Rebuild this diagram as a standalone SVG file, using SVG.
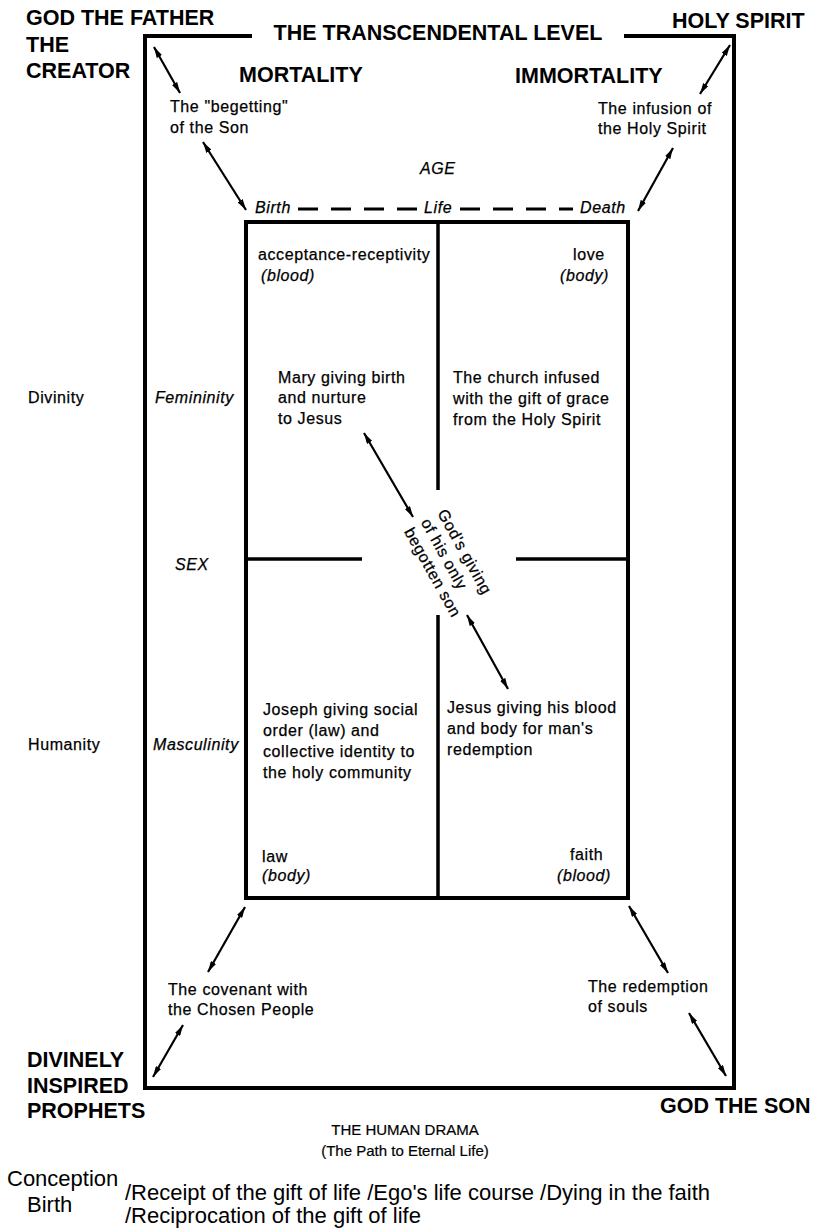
<svg xmlns="http://www.w3.org/2000/svg" width="814" height="1230" viewBox="0 0 814 1230">
<defs>
<style>
.hd{font-family:"Liberation Sans",Arial,sans-serif;font-weight:bold;font-size:21.5px;fill:#000}
.tx{font-family:"Liberation Sans",Arial,sans-serif;font-size:16px;letter-spacing:0.6px;fill:#000;stroke:#000;stroke-width:0.25}
.it{font-family:"Liberation Sans",Arial,sans-serif;font-size:16px;font-style:italic;letter-spacing:0.6px;fill:#000;stroke:#000;stroke-width:0.25}
.bt{font-family:"Liberation Sans",Arial,sans-serif;font-size:22px;fill:#000}
.sm{font-family:"Liberation Sans",Arial,sans-serif;font-size:15px;fill:#000;stroke:#000;stroke-width:0.2}
.frame{fill:none;stroke:#000;stroke-width:4;stroke-linecap:square}
.div{fill:none;stroke:#000;stroke-width:3.5}
.arr{fill:none;stroke:#000;stroke-width:2.2;marker-start:url(#ah);marker-end:url(#ah)}
.dash{fill:none;stroke:#000;stroke-width:3;stroke-dasharray:20 13}
</style>
<marker id="ah" viewBox="0 0 11 6" refX="11" refY="3" markerWidth="11" markerHeight="6" markerUnits="userSpaceOnUse" orient="auto-start-reverse">
<path d="M0,0 L11,3 L0,6 z" fill="#000"/>
</marker>
</defs>
<rect width="814" height="1230" fill="#fff"/>

<g id="outer-frame">
<path class="frame" d="M250,36 H145 V1088 H734 V36 H626"/>
<text class="hd" x="438" y="40" text-anchor="middle">THE TRANSCENDENTAL LEVEL</text>
</g>

<g id="inner-box">
<rect class="frame" x="246" y="222" width="382" height="676"/>
<path class="div" d="M438,222 V490 M438,615 V898 M246,559 H362 M516,559 H628"/>
</g>

<g id="age-line">
<text class="it" x="420" y="174">AGE</text>
<text class="it" x="255" y="213">Birth</text>
<text class="it" x="424" y="213">Life</text>
<text class="it" x="580" y="213">Death</text>
<path class="dash" d="M298,209 H420 M460,209 H573"/>
</g>

<g id="god-the-father">
<text class="hd" x="26" y="25">GOD THE FATHER</text>
<text class="hd" x="26" y="52">THE</text>
<text class="hd" x="26" y="78">CREATOR</text>
</g>
<g id="holy-spirit"><text class="hd" x="672" y="28">HOLY SPIRIT</text></g>
<g id="mortality"><text class="hd" x="239" y="82">MORTALITY</text></g>
<g id="immortality"><text class="hd" x="515" y="83">IMMORTALITY</text></g>
<g id="prophets">
<text class="hd" x="27" y="1067">DIVINELY</text>
<text class="hd" x="27" y="1093">INSPIRED</text>
<text class="hd" x="27" y="1118">PROPHETS</text>
</g>
<g id="god-the-son"><text class="hd" x="660" y="1113">GOD THE SON</text></g>

<g id="begetting">
<text class="tx" x="170" y="112">The "begetting"</text>
<text class="tx" x="170" y="133">of the Son</text>
</g>
<g id="infusion">
<text class="tx" x="598" y="114">The infusion of</text>
<text class="tx" x="598" y="134">the Holy Spirit</text>
</g>
<g id="covenant">
<text class="tx" x="168" y="995">The covenant with</text>
<text class="tx" x="168" y="1015">the Chosen People</text>
</g>
<g id="redemption">
<text class="tx" x="588" y="992">The redemption</text>
<text class="tx" x="588" y="1012">of souls</text>
</g>

<g id="row-labels">
<text class="tx" x="28" y="403">Divinity</text>
<text class="it" x="155" y="403">Femininity</text>
<text class="it" x="175" y="570">SEX</text>
<text class="tx" x="28" y="750">Humanity</text>
<text class="it" x="153" y="750">Masculinity</text>
</g>

<g id="cell-mary">
<text class="tx" x="258" y="260">acceptance-receptivity</text>
<text class="it" x="261" y="281">(blood)</text>
<text class="tx" x="278" y="383">Mary giving birth</text>
<text class="tx" x="278" y="403">and nurture</text>
<text class="tx" x="278" y="424">to Jesus</text>
</g>
<g id="cell-church">
<text class="tx" x="573" y="260">love</text>
<text class="it" x="560" y="281">(body)</text>
<text class="tx" x="453" y="383">The church infused</text>
<text class="tx" x="453" y="404">with the gift of grace</text>
<text class="tx" x="453" y="425">from the Holy Spirit</text>
</g>
<g id="cell-joseph">
<text class="tx" x="263" y="715">Joseph giving social</text>
<text class="tx" x="263" y="736">order (law) and</text>
<text class="tx" x="263" y="757">collective identity to</text>
<text class="tx" x="263" y="778">the holy community</text>
<text class="tx" x="262" y="862">law</text>
<text class="it" x="262" y="881">(body)</text>
</g>
<g id="cell-jesus">
<text class="tx" x="447" y="713">Jesus giving his blood</text>
<text class="tx" x="447" y="734">and body for man's</text>
<text class="tx" x="447" y="755">redemption</text>
<text class="tx" x="570" y="860">faith</text>
<text class="it" x="557" y="881">(blood)</text>
</g>

<g id="gods-giving" transform="translate(437,513) rotate(61)">
<text class="tx" x="0" y="0">God's giving</text>
<text class="tx" x="0" y="19">of his only</text>
<text class="tx" x="0" y="38">begotten son</text>
</g>

<g id="human-drama">
<text class="sm" x="405" y="1135" text-anchor="middle">THE HUMAN DRAMA</text>
<text class="sm" x="405" y="1156" text-anchor="middle">(The Path to Eternal Life)</text>
<text class="bt" x="7" y="1186">Conception</text>
<text class="bt" x="27" y="1212">Birth</text>
<text class="bt" x="125" y="1200">/Receipt of the gift of life /Ego's life course /Dying in the faith</text>
<text class="bt" x="125" y="1223">/Reciprocation of the gift of life</text>
</g>

<g id="connectors">
<line class="arr" x1="154" y1="47" x2="180" y2="93"/>
<line class="arr" x1="203" y1="142" x2="246" y2="210"/>
<line class="arr" x1="730" y1="45" x2="700" y2="94"/>
<line class="arr" x1="673" y1="148" x2="638" y2="211"/>
<line class="arr" x1="364" y1="433" x2="413" y2="517"/>
<line class="arr" x1="467" y1="615" x2="508" y2="689"/>
<line class="arr" x1="245" y1="907" x2="208" y2="972"/>
<line class="arr" x1="183" y1="1025" x2="153" y2="1077"/>
<line class="arr" x1="629" y1="906" x2="668" y2="973"/>
<line class="arr" x1="689" y1="1013" x2="726" y2="1076"/>
</g>
</svg>
